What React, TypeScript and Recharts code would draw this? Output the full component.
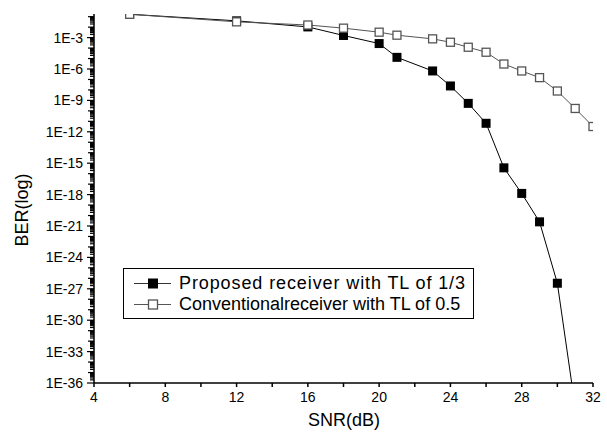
// BER vs SNR chart, log y axis (Recharts)

import { LineChart, Line, XAxis, YAxis, Label } from "recharts";

const snr = [6, 12, 16, 18, 20, 21, 23, 24, 25, 26, 27, 28, 29, 30, 31, 32];
const proposed = [
  0.17, 0.04, 0.0105, 1.6e-3, 2.7e-4, 1.3e-5, 6.5e-7, 2.4e-8, 5.2e-10, 6.5e-12,
  3.6e-16, 1.3e-18, 2.5e-21, 3.4e-27, 5e-39, null,
];
const conventional = [
  0.17, 0.032, 0.016, 8e-3, 3.3e-3, 1.7e-3, 7.6e-4, 3.6e-4, 1.2e-4, 4e-5,
  3e-6, 6.5e-7, 1.5e-7, 7.9e-9, 1.7e-10, 3.2e-12,
];
const xTicks = [4, 6, 8, 10, 12, 14, 16, 18, 20, 22, 24, 26, 28, 30, 32];
const yLabelExps = [-3, -6, -9, -12, -15, -18, -21, -24, -27, -30, -33, -36];

const FONT = "'Liberation Sans', Arial, sans-serif";
const Y_MIN = 1e-36;
const Y_MAX = 0.18;

// decade + minor (2..9) ticks for the log axis
const yTicks: number[] = [];
for (let e = -36; e <= -1; e++) {
  for (let k = 1; k <= 9; k++) {
    const v = k * Math.pow(10, e);
    if (v >= Y_MIN && v <= Y_MAX) yTicks.push(v);
  }
}

const data = snr.map((s, i) => ({
  snr: s,
  proposed: proposed[i],
  conventional: conventional[i],
}));

function YTick(props: any) {
  const { x, y, payload } = props;
  const v = payload.value;
  const e = Math.floor(Math.log10(v) + 1e-9);
  const m = v / Math.pow(10, e);
  const isDecade = Math.abs(m - 1) < 1e-6;
  const labelled = isDecade && yLabelExps.includes(e);
  const len = labelled ? 7 : isDecade ? 6 : 4;
  return (
    <g>
      <line x1={x} x2={x - len} y1={y} y2={y} stroke="#000" strokeWidth={1.2} />
      {labelled && (
        <text x={x - 11} y={y} dy={5} textAnchor="end" fontSize={14} fontFamily={FONT} fill="#000">
          {`1E${e}`}
        </text>
      )}
    </g>
  );
}

function FilledDot(props: any) {
  const { cx, cy, index } = props;
  if (cx == null || cy == null) return <g key={index} />;
  return <rect key={index} x={cx - 4.5} y={cy - 4.5} width={9} height={9} fill="#000" />;
}

function OpenDot(props: any) {
  const { cx, cy, index } = props;
  if (cx == null || cy == null) return <g key={index} />;
  return (
    <rect key={index} x={cx - 4} y={cy - 4} width={8} height={8} fill="#fff" stroke="#555" strokeWidth={1.3} />
  );
}

function LegendBox() {
  const rows = [
    { name: "Proposed receiver with TL of 1/3", filled: true, spacing: 0.9 },
    { name: "Conventionalreceiver with TL of 0.5", filled: false, spacing: 0 },
  ];
  return (
    <div
      style={{
        position: "absolute",
        left: 123,
        top: 268,
        width: 351,
        height: 51,
        border: "1px solid #000",
        background: "#fff",
        fontFamily: FONT,
        fontSize: 18,
        color: "#000",
        paddingTop: 4,
        boxSizing: "border-box",
      }}
    >
      {rows.map((r) => (
        <div key={r.name} style={{ display: "flex", alignItems: "center", height: 21 }}>
          <svg width={55} height={21} style={{ flexShrink: 0 }}>
            <line x1={10} x2={47} y1={10.5} y2={10.5} stroke={r.filled ? "#333" : "#555"} />
            {r.filled ? (
              <rect x={24} y={5.5} width={10} height={10} fill="#000" />
            ) : (
              <rect x={24.5} y={6} width={9} height={9} fill="#fff" stroke="#555" strokeWidth={1.3} />
            )}
          </svg>
          <span style={{ whiteSpace: "nowrap", letterSpacing: r.spacing }}>{r.name}</span>
        </div>
      ))}
    </div>
  );
}

export default function App() {
  return (
    <div style={{ position: "absolute", left: 0, top: 0, width: 607, height: 439, background: "#fff" }}>
      <LineChart width={607} height={439} data={data} margin={{ top: 14, right: 14, bottom: 0, left: 0 }}>
        <XAxis
          dataKey="snr"
          type="number"
          domain={[4, 32]}
          ticks={xTicks}
          interval={0}
          allowDataOverflow
          height={56}
          stroke="#000"
          strokeWidth={1.5}
          tickSize={4}
          tickMargin={5}
          tick={{ fontSize: 14, fontFamily: FONT, fill: "#000" }}
          tickFormatter={(v: number) => (v % 4 === 0 ? String(v) : "")}
        >
          <Label
            content={() => (
              <text x={344} y={426} textAnchor="middle" fontSize={18} fontFamily={FONT} fill="#000">
                SNR(dB)
              </text>
            )}
          />
        </XAxis>
        <YAxis
          type="number"
          scale="log"
          domain={[Y_MIN, Y_MAX]}
          ticks={yTicks}
          interval={0}
          allowDataOverflow
          width={94}
          stroke="#000"
          strokeWidth={1.5}
          tickLine={false}
          tickSize={0}
          tickMargin={0}
          tick={<YTick />}
        >
          <Label
            content={() => (
              <text
                x={28}
                y={210}
                transform="rotate(-90 28 210)"
                textAnchor="middle"
                fontSize={18}
                fontFamily={FONT}
                fill="#000"
              >
                BER(log)
              </text>
            )}
          />
        </YAxis>
        <Line
          type="linear"
          dataKey="proposed"
          stroke="#000"
          strokeWidth={1}
          dot={<FilledDot />}
          activeDot={false}
          isAnimationActive={false}
        />
        <Line
          type="linear"
          dataKey="conventional"
          stroke="#555"
          strokeWidth={1}
          dot={<OpenDot />}
          activeDot={false}
          isAnimationActive={false}
        />
      </LineChart>
      <LegendBox />
    </div>
  );
}
